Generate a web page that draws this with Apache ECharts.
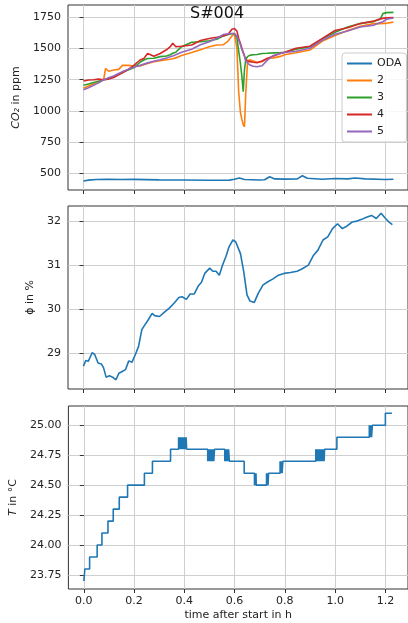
<!DOCTYPE html>
<html><head><meta charset="utf-8">
<script src="https://cdn.jsdelivr.net/npm/echarts@6/dist/echarts.min.js"></script>
<style>html,body{margin:0;padding:0;background:#fff}#c{width:408px;height:623px}</style>
</head><body><div id="c"></div>
<script>
// ---- data ----
const co2Time = [0,0.02,0.04,0.06,0.08,0.088,0.1,0.12,0.14,0.155,
  0.18,0.2,0.225,0.24,0.255,0.28,0.305,0.33,0.345,0.355,
  0.367,0.39,0.43,0.465,0.5,0.53,0.555,0.575,0.59,0.6,
  0.61,0.617,0.624,0.63,0.635,0.64,0.645,0.652,0.66,0.675,
  0.69,0.71,0.73,0.755,0.78,0.8,0.845,0.9,0.95,1.0,
  1.05,1.1,1.155,1.18,1.19,1.205,1.232];
const co2S2 = [1181,1200,1215,1230,1250,1340,1318,1328,1333,1365,
  1365,1360,1360,1370,1380,1395,1402,1410,1414,1418,
  1425,1445,1468,1490,1515,1528,1530,1560,1600,1620,
  1500,1150,985,930,890,873,1140,1385,1410,1400,
  1390,1395,1420,1425,1435,1450,1466,1488,1560,1605,
  1645,1678,1700,1700,1702,1702,1712];
const co2S3 = [1205,1215,1228,1238,1250,1253,1260,1275,1295,1310,
  1330,1345,1390,1408,1420,1422,1435,1440,1450,1462,
  1470,1515,1550,1555,1563,1575,1600,1612,1618,1620,
  1585,1480,1380,1270,1154,1330,1410,1435,1445,1450,
  1452,1460,1462,1465,1466,1470,1495,1515,1580,1630,
  1672,1700,1718,1735,1780,1788,1790];
const co2S4 = [1240,1248,1250,1255,1250,1252,1255,1268,1290,1305,
  1335,1365,1408,1420,1460,1438,1460,1490,1515,1542,
  1515,1518,1528,1565,1580,1590,1600,1615,1655,1660,
  1640,1580,1540,1500,1470,1440,1410,1400,1395,1390,
  1386,1400,1420,1440,1458,1470,1502,1518,1582,1645,
  1666,1700,1720,1738,1742,1746,1748];
const co2S5 = [1170,1185,1205,1225,1250,1255,1265,1280,1300,1315,
  1335,1350,1365,1375,1385,1398,1410,1425,1435,1440,
  1450,1470,1494,1530,1555,1582,1612,1618,1620,1620,
  1600,1565,1530,1490,1465,1440,1400,1385,1370,1358,
  1354,1362,1405,1445,1460,1468,1478,1502,1568,1614,
  1640,1672,1688,1708,1715,1735,1745];
const odaTime = [0,0.02,0.05,0.1,0.15,0.2,0.3,0.4,0.5,0.58,0.6,0.62,0.64,0.7,0.72,0.74,0.76,0.8,0.85,0.87,0.89,0.95,1.0,1.05,1.08,1.12,1.2,1.232];
const odaCO2 = [438,445,450,452,450,451,447,446,444,445,452,462,450,446,448,472,455,453,455,480,460,452,458,455,462,455,450,452];

const phiTime = [0,0.009,0.019,0.035,0.045,0.058,0.071,0.08,0.09,0.103,
  0.116,0.129,0.141,0.154,0.167,0.18,0.193,0.206,0.219,0.232,
  0.244,0.257,0.273,0.283,0.302,0.322,0.341,0.36,0.379,0.392,
  0.409,0.424,0.44,0.457,0.469,0.482,0.502,0.514,0.527,0.54,
  0.553,0.566,0.579,0.594,0.605,0.624,0.637,0.65,0.662,0.679,
  0.695,0.714,0.733,0.752,0.772,0.797,0.823,0.849,0.868,0.894,
  0.913,0.932,0.952,0.971,0.99,1.01,1.029,1.048,1.068,1.087,
  1.106,1.125,1.145,1.164,1.183,1.199,1.216,1.228];
const phiVal = [28.71,28.84,28.82,29.02,28.97,28.78,28.76,28.67,28.46,28.49,
  28.46,28.40,28.55,28.59,28.63,28.83,28.80,28.97,29.16,29.54,
  29.65,29.76,29.91,29.86,29.84,29.94,30.03,30.14,30.27,30.29,
  30.23,30.35,30.35,30.54,30.62,30.82,30.94,30.87,30.87,30.78,
  31.01,31.20,31.43,31.58,31.54,31.27,30.86,30.33,30.19,30.16,
  30.37,30.56,30.63,30.69,30.77,30.82,30.84,30.87,30.92,31.01,
  31.22,31.35,31.58,31.65,31.84,31.95,31.84,31.90,31.99,32.01,
  32.05,32.10,32.14,32.07,32.19,32.08,31.98,31.93];

const tempTime = [0,0.004,0.023,0.053,0.072,0.096,0.117,0.141,0.174,0.241,0.273,0.345,
  0.377,0.380,0.383,0.386,0.389,0.392,0.395,0.398,0.401,0.404,0.407,0.409,
  0.493,0.496,0.499,0.502,0.505,0.508,0.511,0.514,0.517,0.520,
  0.561,0.564,0.567,0.570,0.573,0.576,0.579,0.583,
  0.638,
  0.679,0.681,0.683,0.685,0.686,
  0.727,0.729,0.731,0.733,0.735,
  0.781,0.783,0.786,0.789,0.792,
  0.923,0.926,0.929,0.932,0.935,0.938,0.941,0.944,0.947,0.950,0.953,0.956,0.958,
  1.007,
  1.136,1.139,1.142,1.145,1.148,1.151,
  1.200,1.226];
const tempVal = [23.7,23.8,23.9,24.0,24.1,24.2,24.3,24.4,24.5,24.6,24.7,24.8,
  24.9,24.8,24.9,24.8,24.9,24.8,24.9,24.8,24.9,24.8,24.9,24.8,
  24.7,24.8,24.7,24.8,24.7,24.8,24.7,24.8,24.7,24.8,
  24.7,24.8,24.7,24.8,24.7,24.8,24.7,24.7,
  24.6,
  24.5,24.6,24.5,24.6,24.5,
  24.6,24.5,24.6,24.5,24.6,
  24.7,24.6,24.7,24.6,24.7,
  24.8,24.7,24.8,24.7,24.8,24.7,24.8,24.7,24.8,24.7,24.8,24.7,24.8,
  24.9,
  25.0,24.9,25.0,24.9,25.0,25.0,
  25.1,25.1];

const xTicks = [0,0.2,0.4,0.6,0.8,1.0,1.2];
const co2Ticks = [500,750,1000,1250,1500,1750];
const phiTicks = [29,30,31,32];
const tempTicks = [23.75,24.0,24.25,24.5,24.75,25.0];
const legendNames = ['ODA','2','3','4','5'];
const colors = ['#1f77b4','#ff7f0e','#2ca02c','#d62728','#9467bd'];

// ---- chart ----
const FONT = 'DejaVu Sans';
const zip = (a,b) => a.map((v,i)=>[v,b[i]]);
const gridLine = {show:true, lineStyle:{color:'#cfcfcf', width:1}};
const txt = {color:'#222', fontSize:11, fontFamily:FONT};

function xAxis(idx, labels){
  return {
    type:'value', gridIndex:idx, min:-0.0615, max:1.29,
    axisLine:{show:false},
    axisTick:{show:true, customValues:xTicks, length:4, lineStyle:{color:'#333'}},
    axisLabel:Object.assign({show:labels, customValues:xTicks, margin:7, formatter:v=>v.toFixed(1)}, txt),
    splitLine:gridLine,
    name: labels ? 'time after start in h' : '',
    nameLocation:'middle', nameGap:21,
    nameTextStyle:Object.assign({}, txt)
  };
}
function yAxis(idx, min, max, ticks, fmt, name, gap, rich){
  return {
    type:'value', gridIndex:idx, min:min, max:max,
    axisLine:{show:false},
    axisTick:{show:true, customValues:ticks, length:4, lineStyle:{color:'#333'}},
    axisLabel:Object.assign({customValues:ticks, margin:7, formatter:fmt}, txt),
    splitLine:gridLine,
    name:name, nameLocation:'middle', nameGap:gap, nameRotate:90,
    nameTextStyle:Object.assign({rich:rich||{}}, txt)
  };
}

const chart = echarts.init(document.getElementById('c'), null, {renderer:'canvas'});
const lineSeries = (name, data, color, xi, yi, extra) => Object.assign({
  type:'line', name:name, data:data, xAxisIndex:xi, yAxisIndex:yi,
  symbol:'none', showSymbol:false, animation:false,
  lineStyle:{color:color, width:1.6}, itemStyle:{color:color}
}, extra||{});

const co2Sets = [zip(odaTime, odaCO2), zip(co2Time, co2S2), zip(co2Time, co2S3), zip(co2Time, co2S4), zip(co2Time, co2S5)];
const italic = {i:{fontStyle:'italic', fontFamily:FONT, fontSize:11, color:'#222'}};

chart.setOption({
  animation:false,
  backgroundColor:'#fff',
  title:{text:'S#004', left:185, top:1, textStyle:{fontFamily:FONT, fontSize:16, fontWeight:'normal', color:'#111'}},
  legend:{
    data:legendNames, orient:'vertical', left:342, top:53,
    icon:'path://M0,0H25V2H0Z',
    itemWidth:25, itemHeight:13, itemGap:4, padding:[4,5,4,5],
    backgroundColor:'rgba(255,255,255,0.85)', borderColor:'#cccccc', borderWidth:1, borderRadius:3,
    textStyle:Object.assign({lineHeight:13}, txt)
  },
  grid:[
    {left:68, top:5, width:349, height:185, show:true, borderColor:'#333', borderWidth:1, backgroundColor:'transparent'},
    {left:68, top:206, width:349, height:183, show:true, borderColor:'#333', borderWidth:1, backgroundColor:'transparent'},
    {left:68, top:406, width:349, height:183, show:true, borderColor:'#333', borderWidth:1, backgroundColor:'transparent'}
  ],
  xAxis:[xAxis(0,false), xAxis(1,false), xAxis(2,true)],
  yAxis:[
    yAxis(0, 366, 1849, co2Ticks, v=>String(v), '{i|CO₂} in ppm', 38, italic),
    yAxis(1, 28.19, 32.354, phiTicks, v=>String(v), 'ϕ in %', 22),
    yAxis(2, 23.633, 25.161, tempTicks, v=>v.toFixed(2), '{i|T} in °C', 39, italic)
  ],
  series: legendNames.map((n,i)=>lineSeries(n, co2Sets[i], colors[i], 0, 0))
    .concat([
      lineSeries('phi', zip(phiTime, phiVal), colors[0], 1, 1),
      lineSeries('T', zip(tempTime, tempVal), colors[0], 2, 2, {step:'end'})
    ])
});
</script></body></html>
